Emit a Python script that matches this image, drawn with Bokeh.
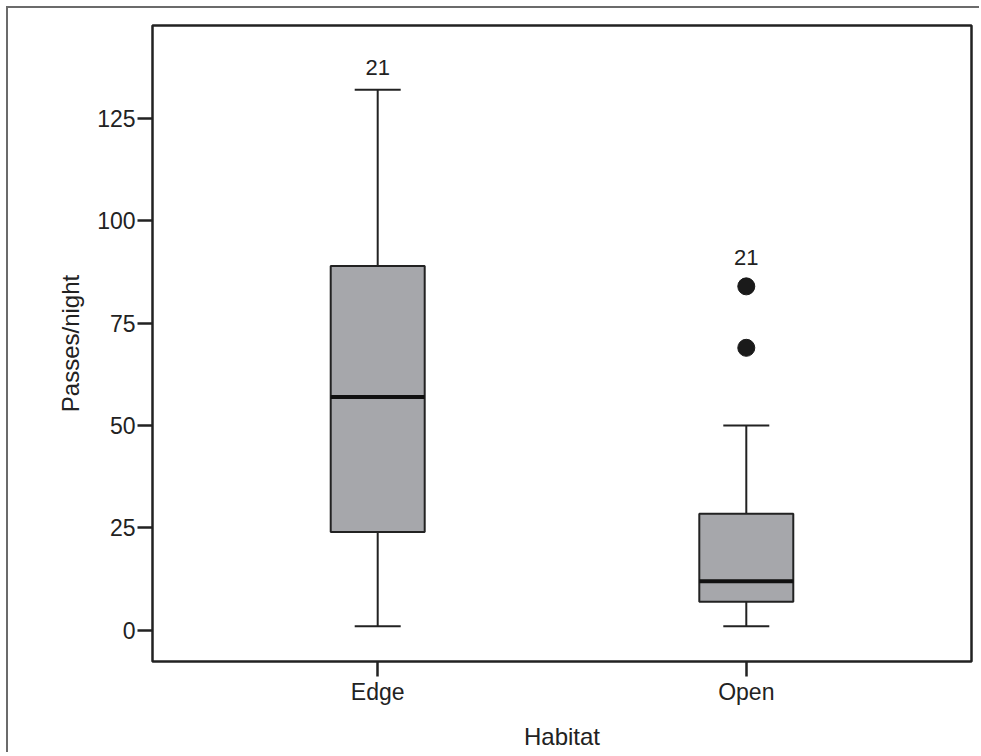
from bokeh.plotting import figure
from bokeh.models import ColumnDataSource, FactorRange, Range1d, FixedTicker, Whisker, TeeHead
from bokeh.core.properties import value
from bokeh.embed import file_html
from bokeh.resources import INLINE

# ---- data ----
categories = ["Edge", "Open"]
q1 = [24, 7]
median = [57, 12]
q3 = [89, 28.5]
whisker_low = [1, 1]
whisker_high = [132, 50]
outlier_cat = ["Open", "Open"]
outlier_val = [69, 84]
case_label_cat = ["Edge", "Open"]
case_label_val = [137.5, 91]
case_label_text = ["21", "21"]
y_ticks = [0, 25, 50, 75, 100, 125]

FONT = "Liberation Sans"
INK = "#222222"

src = ColumnDataSource(dict(cat=categories, q1=q1, med=median, q3=q3,
                            lo=whisker_low, hi=whisker_high))

p = figure(width=973, height=746, output_backend="svg", toolbar_location=None,
           x_range=FactorRange(*categories, range_padding=0.111, range_padding_units="absolute"),
           y_range=Range1d(-7.6, 147.7),
           min_border_left=144, min_border_right=10, min_border_top=17, min_border_bottom=93)

p.styles = {"border-top": "2px solid #6b6b6b", "border-left": "2px solid #6b6b6b",
            "margin-left": "6px", "margin-top": "6px"}

# whiskers
p.add_layout(Whisker(base="cat", lower="q3", upper="hi", source=src, dimension="height",
                     line_color=INK, line_width=2,
                     upper_head=TeeHead(size=46, line_color=INK, line_width=2), lower_head=None))
p.add_layout(Whisker(base="cat", lower="lo", upper="q1", source=src, dimension="height",
                     line_color=INK, line_width=2,
                     lower_head=TeeHead(size=46, line_color=INK, line_width=2), upper_head=None))

# boxes
p.vbar(x="cat", bottom="q1", top="q3", width=0.255, source=src,
       fill_color="#a6a7ab", line_color=INK, line_width=2)
# medians
p.vbar(x="cat", bottom="med", top="med", width=0.255, source=src,
       fill_alpha=0, line_color="#111111", line_width=4)

# outliers
p.scatter(x=outlier_cat, y=outlier_val, size=17, fill_color="#1a1a1a", line_color="#1a1a1a")

# case labels
p.text(x=case_label_cat, y=case_label_val, text=case_label_text,
       text_font=value(FONT), text_font_size="22px", text_color=INK,
       text_align="center", text_baseline="middle")

# styling
p.outline_line_color = INK
p.outline_line_width = 2.5
p.outline_line_alpha = 1
p.xgrid.grid_line_color = None
p.ygrid.grid_line_color = None
p.background_fill_color = "white"
p.border_fill_color = "white"

p.yaxis.ticker = FixedTicker(ticks=y_ticks)
for ax in (p.xaxis[0], p.yaxis[0]):
    ax.axis_line_color = None
    ax.major_tick_line_color = INK
    ax.major_tick_line_width = 2.5
    ax.major_tick_in = 0
    ax.major_tick_out = 15
    ax.minor_tick_line_color = None
    ax.major_label_text_font = FONT
    ax.major_label_text_font_size = "23px"
    ax.major_label_text_color = INK
    ax.axis_label_text_font = FONT
    ax.axis_label_text_font_size = "24px"
    ax.axis_label_text_font_style = "normal"
    ax.axis_label_text_color = INK
    ax.major_label_standoff = 2

p.xaxis.axis_label = "Habitat"
p.yaxis.axis_label = "Passes/night"
p.xaxis.axis_label_standoff = 15
p.yaxis.axis_label_standoff = 10

open("out.html", "w").write(file_html(p, INLINE))
